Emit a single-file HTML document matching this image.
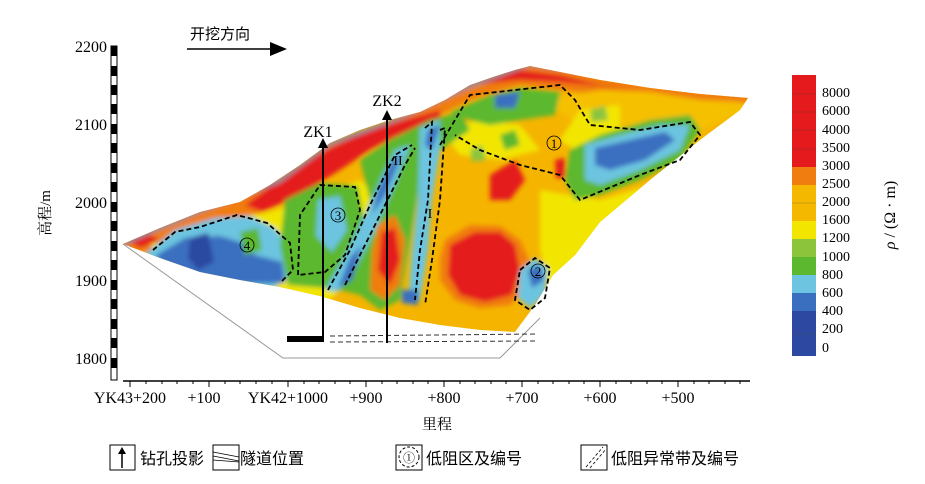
<!DOCTYPE html>
<html><head><meta charset="utf-8"><style>
html,body{margin:0;padding:0;background:#fff;}
svg{display:block;font-family:"Liberation Serif","Noto Serif CJK SC",serif;}
</style></head><body>
<svg width="925" height="484" viewBox="0 0 925 484" xmlns="http://www.w3.org/2000/svg">
<defs>
<clipPath id="sec"><path d="M123,244 L160,228 L200,212 L240,202 L270,185 L300,165 L330,143 L360,130 L390,120 L420,112 L445,100 L470,85 L493,77 L515,70 L530,66 L560,72 L600,80 L650,88 L700,94 L748,98 L740,110 L700,140 L650,180 L600,222 L575,255 L553,275 L535,305 L515,332 L480,330 L440,325 L400,318 L360,308 L320,296 L280,287 L240,280 L200,272 L160,258 Z"/></clipPath>
<filter id="bl"><feGaussianBlur stdDeviation="2.5"/></filter>
</defs>
<text x="190" y="39" font-size="15" font-family="Liberation Sans,Noto Sans CJK SC,sans-serif">开挖方向</text>
<line x1="187" y1="49" x2="272" y2="49" stroke="#000" stroke-width="1.5"/>
<polygon points="270,42 287,49 270,56" fill="#000"/>
<rect x="111" y="46" width="6" height="334" fill="#fff" stroke="#000" stroke-width="1"/>
<g fill="#000">
<rect x="111" y="46" width="6" height="10"/><rect x="111" y="66" width="6" height="10"/><rect x="111" y="85" width="6" height="10"/><rect x="111" y="104" width="6" height="10"/><rect x="111" y="124" width="6" height="10"/><rect x="111" y="143" width="6" height="10"/><rect x="111" y="163" width="6" height="10"/><rect x="111" y="182" width="6" height="10"/><rect x="111" y="202" width="6" height="10"/><rect x="111" y="221" width="6" height="10"/><rect x="111" y="241" width="6" height="10"/><rect x="111" y="260" width="6" height="10"/><rect x="111" y="280" width="6" height="10"/><rect x="111" y="299" width="6" height="10"/><rect x="111" y="319" width="6" height="10"/><rect x="111" y="338" width="6" height="10"/><rect x="111" y="358" width="6" height="10"/>
</g>
<g font-size="16" text-anchor="end">
<text x="107" y="52">2200</text><text x="107" y="130">2100</text><text x="107" y="208">2000</text><text x="107" y="286">1900</text><text x="107" y="364">1800</text>
</g>
<text transform="translate(50,213) rotate(-90)" font-size="15" text-anchor="middle">高程/m</text>
<line x1="123" y1="381" x2="750" y2="381" stroke="#000" stroke-width="1.5"/>
<g stroke="#000" stroke-width="1">
<line x1="130" y1="381" x2="130" y2="387"/><line x1="209" y1="381" x2="209" y2="387"/><line x1="288" y1="381" x2="288" y2="387"/><line x1="366" y1="381" x2="366" y2="387"/><line x1="444" y1="381" x2="444" y2="387"/><line x1="522" y1="381" x2="522" y2="387"/><line x1="600" y1="381" x2="600" y2="387"/><line x1="678" y1="381" x2="678" y2="387"/>
<line x1="146" y1="381" x2="146" y2="384"/><line x1="162" y1="381" x2="162" y2="384"/><line x1="177" y1="381" x2="177" y2="384"/><line x1="193" y1="381" x2="193" y2="384"/><line x1="225" y1="381" x2="225" y2="384"/><line x1="240" y1="381" x2="240" y2="384"/><line x1="256" y1="381" x2="256" y2="384"/><line x1="272" y1="381" x2="272" y2="384"/><line x1="304" y1="381" x2="304" y2="384"/><line x1="319" y1="381" x2="319" y2="384"/><line x1="335" y1="381" x2="335" y2="384"/><line x1="350" y1="381" x2="350" y2="384"/><line x1="382" y1="381" x2="382" y2="384"/><line x1="397" y1="381" x2="397" y2="384"/><line x1="413" y1="381" x2="413" y2="384"/><line x1="428" y1="381" x2="428" y2="384"/><line x1="460" y1="381" x2="460" y2="384"/><line x1="475" y1="381" x2="475" y2="384"/><line x1="491" y1="381" x2="491" y2="384"/><line x1="506" y1="381" x2="506" y2="384"/><line x1="538" y1="381" x2="538" y2="384"/><line x1="553" y1="381" x2="553" y2="384"/><line x1="569" y1="381" x2="569" y2="384"/><line x1="584" y1="381" x2="584" y2="384"/><line x1="616" y1="381" x2="616" y2="384"/><line x1="631" y1="381" x2="631" y2="384"/><line x1="647" y1="381" x2="647" y2="384"/><line x1="662" y1="381" x2="662" y2="384"/><line x1="694" y1="381" x2="694" y2="384"/><line x1="709" y1="381" x2="709" y2="384"/><line x1="725" y1="381" x2="725" y2="384"/><line x1="740" y1="381" x2="740" y2="384"/>
</g>
<g font-size="16" text-anchor="middle">
<text x="130" y="403">YK43+200</text><text x="204" y="403">+100</text><text x="288" y="403">YK42+1000</text><text x="366" y="403">+900</text><text x="444" y="403">+800</text><text x="522" y="403">+700</text><text x="600" y="403">+600</text><text x="678" y="403">+500</text>
</g>
<text x="437" y="429" font-size="15" text-anchor="middle">里程</text>
<polyline points="123,244 283,358 500,358 540,318" fill="none" stroke="#999" stroke-width="1"/>
<g clip-path="url(#sec)">
<rect x="100" y="50" width="680" height="300" fill="#f5b400"/>
<g filter="url(#bl)">
<path d="M110,250 L200,205 L280,175 L340,140 L400,115 L470,80 L530,60 L760,90 L760,100 L700,110 L600,95 L520,85 L470,100 L420,125 L360,155 L300,195 L240,222 L150,252 Z" fill="#f07d10"/>
<path d="M245,205 L290,172 L330,148 L360,134 L400,121 L440,110 L440,120 L400,134 L370,150 L340,170 L300,195 L262,212 Z" fill="#e41a1c"/>
<path d="M130,242 L150,235 L160,240 L140,248 Z" fill="#e41a1c"/>
<path d="M540,100 L600,90 L650,92 L700,100 L740,102 L750,112 L700,130 L640,140 L580,125 Z" fill="#f5c000"/>
<path d="M470,85 L520,70 L560,75 L600,85 L640,90 L560,82 L520,80 Z" fill="#e41a1c"/>
<path d="M150,245 L220,220 L270,212 L320,195 L360,180 L380,200 L370,260 L330,300 L250,285 L170,265 Z" fill="#f2e600"/>
<path d="M540,190 L600,200 L650,185 L700,160 L700,185 L640,215 L600,240 L570,270 L550,290 L540,250 Z" fill="#f2e600"/>
<path d="M560,140 L580,110 L620,105 L620,140 L590,160 Z" fill="#f2e600"/>
<path d="M440,130 L480,120 L520,125 L540,150 L500,160 L460,155 Z" fill="#f2e600"/>
<path d="M140,258 L175,230 L215,218 L250,216 L275,228 L290,250 L292,275 L270,290 L220,285 L170,270 Z" fill="#6cc4e0"/>
<path d="M155,256 L185,238 L220,236 L240,242 L255,255 L282,262 L285,283 L220,284 L170,270 Z" fill="#3a6fc0"/>
<path d="M190,238 L208,233 L214,262 L198,270 L188,258 Z" fill="#2c48a0"/>
<path d="M240,232 L258,228 L262,250 L245,255 Z" fill="#5cb82e"/>
<path d="M285,200 L320,183 L358,186 L364,220 L352,265 L325,288 L288,285 L280,245 Z" fill="#5cb82e"/>
<path d="M318,200 L340,196 L347,230 L332,252 L316,236 Z" fill="#6cc4e0"/>
<path d="M360,160 L390,140 L430,120 L460,112 L470,130 L440,150 L420,180 L410,240 L400,300 L380,310 L360,295 L340,290 L355,250 L370,200 Z" fill="#5cb82e"/>
<path d="M395,150 L410,145 L395,185 L375,230 L355,270 L338,292 L325,290 L345,255 L365,215 L380,180 Z" fill="#6cc4e0"/>
<path d="M393,160 L402,155 L385,195 L372,215 L378,190 Z" fill="#3a6fc0"/>
<path d="M350,258 L362,245 L352,280 L338,288 Z" fill="#3a6fc0"/>
<path d="M420,128 L440,120 L440,150 L432,200 L428,250 L420,300 L408,305 L412,250 L418,200 Z" fill="#6cc4e0"/>
<path d="M428,130 L440,125 L432,150 L425,145 Z" fill="#3a6fc0"/>
<path d="M402,290 L418,290 L418,305 L402,303 Z" fill="#3a6fc0"/>
<path d="M378,225 L395,215 L405,240 L400,285 L385,300 L370,290 L372,250 Z" fill="#f07d10"/>
<path d="M382,232 L395,228 L400,260 L390,285 L378,270 Z" fill="#e41a1c"/>
<path d="M450,112 L490,95 L520,88 L560,92 L555,115 L520,120 L490,125 L470,120 Z" fill="#5cb82e"/>
<path d="M495,95 L520,92 L515,108 L495,108 Z" fill="#3a6fc0"/>
<path d="M500,135 L515,130 L520,145 L505,150 Z" fill="#5cb82e"/>
<path d="M470,150 L482,145 L486,160 L472,162 Z" fill="#8cc43c"/>
<path d="M590,110 L605,106 L608,120 L592,122 Z" fill="#8cc43c"/>
<path d="M490,175 L515,160 L525,180 L510,200 L490,200 Z" fill="#e41a1c"/>
<path d="M555,160 L565,158 L565,178 L556,178 Z" fill="#e41a1c"/>
<path d="M445,240 L470,225 L500,226 L520,240 L530,262 L525,290 L510,305 L480,308 L455,300 L440,280 L440,258 Z" fill="#f07d10"/>
<path d="M450,245 L475,232 L500,232 L515,245 L520,270 L512,295 L485,302 L460,295 L448,275 Z" fill="#e41a1c"/>
<path d="M570,150 L600,135 L650,120 L690,115 L700,130 L680,160 L640,180 L600,195 L575,200 L565,180 Z" fill="#5cb82e"/>
<path d="M585,145 L620,135 L660,125 L690,125 L680,150 L640,170 L600,185 L585,180 Z" fill="#6cc4e0"/>
<path d="M595,148 L630,140 L665,132 L675,140 L645,160 L610,170 L595,165 Z" fill="#3a6fc0"/>
<path d="M520,270 L535,258 L548,268 L545,295 L530,308 L518,298 Z" fill="#6cc4e0"/>
<path d="M528,270 L540,265 L544,280 L532,288 Z" fill="#3a6fc0"/>
<path d="M110,244 L200,208 L280,178 L330,141 L400,116 L470,83 L530,62 L760,93 L760,95 L530,66 L470,88 L400,120 L330,146 L280,183 L200,213 L120,247 Z" fill="#8a8a9a"/>
</g>
</g>
<g fill="none" stroke="#000" stroke-width="1.8" stroke-dasharray="5,3">
<path d="M153,250 L175,232 L200,227 L237,215 L267,223 L290,243 L293,270 L280,283"/>
<path d="M298,275 L300,215 L320,185 L355,187 L360,210 L345,255 L325,272 L298,275"/>
<path d="M328,290 L350,250 L370,205 L395,155 L412,145"/>
<path d="M345,285 L365,245 L385,205 L405,165 L415,148"/>
<path d="M425,128 L432,122 L428,200 L420,250 L415,300"/>
<path d="M440,130 L445,128 L440,200 L432,260 L425,305"/>
<path d="M440,145 L470,95 L560,85 L575,100 L590,125 L640,130 L690,122 L700,135 L680,160 L640,175 L580,200 L560,175 L520,165 L480,150 L455,135"/>
<path d="M520,270 L535,258 L550,268 L545,298 L530,310 L515,300 Z"/>
</g>
<g font-size="13" text-anchor="middle">
<circle cx="247" cy="245" r="7" fill="none" stroke="#000" stroke-width="0.8"/><text x="247" y="250">4</text>
<circle cx="338" cy="215" r="7" fill="none" stroke="#000" stroke-width="0.8"/><text x="338" y="220">3</text>
<circle cx="554" cy="143" r="7" fill="none" stroke="#000" stroke-width="0.8"/><text x="554" y="148">1</text>
<circle cx="538" cy="271" r="7" fill="none" stroke="#000" stroke-width="0.8"/><text x="538" y="276">2</text>
<text x="398" y="165" font-size="14">II</text><text x="430" y="218" font-size="14">I</text>
</g>
<rect x="287" y="336" width="37" height="6" fill="#000"/>
<g stroke="#333" stroke-width="1" stroke-dasharray="5,3">
<line x1="330" y1="336" x2="538" y2="334"/><line x1="330" y1="342" x2="538" y2="341"/>
</g>
<g stroke="#000" stroke-width="2">
<line x1="323" y1="342" x2="323" y2="146"/><line x1="387" y1="343" x2="387" y2="118"/>
</g>
<polygon points="318,148 323,138 328,148" fill="#000"/>
<polygon points="382,120 387,110 392,120" fill="#000"/>
<text x="318" y="137" font-size="16" text-anchor="middle">ZK1</text>
<text x="387" y="106" font-size="16" text-anchor="middle">ZK2</text>
<g>
<rect x="792" y="75" width="24" height="92" fill="#e41a1c"/>
<rect x="792" y="167" width="24" height="18" fill="#f07d10"/>
<rect x="792" y="185" width="24" height="36" fill="#f5b800"/>
<rect x="792" y="221" width="24" height="18" fill="#f2e600"/>
<rect x="792" y="239" width="24" height="18" fill="#8cc43c"/>
<rect x="792" y="257" width="24" height="18" fill="#5cb82e"/>
<rect x="792" y="275" width="24" height="18" fill="#6cc4e0"/>
<rect x="792" y="293" width="24" height="18" fill="#3a6fc0"/>
<rect x="792" y="311" width="24" height="45" fill="#2c48a0"/>
<g stroke="#444" stroke-width="0.5" opacity="0.5"><line x1="792" y1="94" x2="816" y2="94"/><line x1="792" y1="112" x2="816" y2="112"/><line x1="792" y1="130" x2="816" y2="130"/><line x1="792" y1="149" x2="816" y2="149"/><line x1="792" y1="203" x2="816" y2="203"/><line x1="792" y1="334" x2="816" y2="334"/></g>
</g>
<g font-size="14">
<text x="822" y="97">8000</text><text x="822" y="115">6000</text><text x="822" y="134">4000</text><text x="822" y="152">3500</text><text x="822" y="170">3000</text><text x="822" y="188">2500</text><text x="822" y="206">2000</text><text x="822" y="224">1600</text><text x="822" y="242">1200</text><text x="822" y="261">1000</text><text x="822" y="279">800</text><text x="822" y="297">600</text><text x="822" y="315">400</text><text x="822" y="333">200</text><text x="822" y="352">0</text>
</g>
<text transform="translate(895,215) rotate(-90)" font-size="16" text-anchor="middle"><tspan font-style="italic">ρ</tspan> / (Ω · m)</text>
<g fill="none" stroke="#000" stroke-width="1">
<rect x="110" y="445" width="25" height="25"/>
<rect x="213" y="445" width="26" height="25"/>
<rect x="396" y="445" width="26" height="25"/>
<rect x="581" y="445" width="26" height="25"/>
</g>
<line x1="122" y1="468" x2="122" y2="452" stroke="#000" stroke-width="1.5"/>
<polygon points="118,454 122,447 126,454" fill="#000"/>
<g stroke="#000" stroke-width="0.8"><line x1="213" y1="452" x2="239" y2="457"/><line x1="213" y1="456" x2="239" y2="461"/><line x1="213" y1="460" x2="239" y2="462"/></g>
<ellipse cx="409" cy="457" rx="10" ry="10" fill="none" stroke="#000" stroke-dasharray="3,2"/>
<text x="409" y="462" font-size="12" text-anchor="middle">①</text>
<g stroke="#000" stroke-width="0.8" stroke-dasharray="3,2"><line x1="586" y1="467" x2="603" y2="447"/><line x1="590" y1="468" x2="606" y2="449"/></g>
<g font-size="16" font-family="Liberation Sans,Noto Sans CJK SC,sans-serif">
<text x="140" y="464">钻孔投影</text><text x="240" y="464">隧道位置</text><text x="426" y="464">低阻区及编号</text><text x="611" y="464">低阻异常带及编号</text>
</g>
</svg>
</body></html>
